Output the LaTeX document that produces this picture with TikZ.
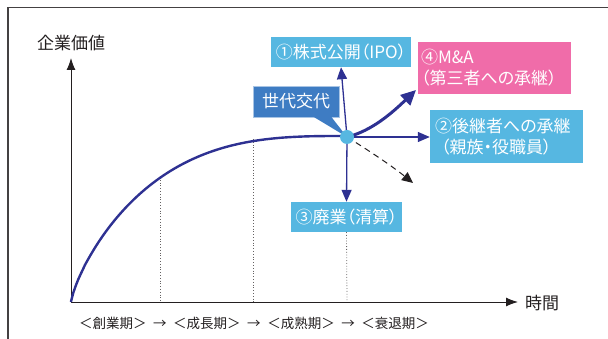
\documentclass[tikz,border=0pt]{standalone}
\usepackage{fontspec}
\newfontfamily\jp{Noto Sans CJK JP}
\newfontfamily\jpp{Noto Sans CJK JP}[RawFeature=+palt]
\usetikzlibrary{arrows.meta}
\definecolor{lblue}{HTML}{56B7E1}
\definecolor{dblue}{HTML}{3E7CC3}
\definecolor{pinkc}{HTML}{F06CA9}
\definecolor{navy}{HTML}{2E3192}
\definecolor{ink}{HTML}{231F20}
\begin{document}
\begin{tikzpicture}[x=1pt,y=-1pt,
  axlabel/.style={font=\jp\fontsize{17}{20}\selectfont, text=ink, inner sep=0pt},
  boxbase/.style={font=\jpp\fontsize{17}{21}\selectfont, text=white, inner sep=0pt},
  lbox/.style={boxbase, fill=lblue},
  pbox/.style={boxbase, fill=pinkc},
  dbox/.style={boxbase, fill=dblue, draw=dblue!45!white, line width=0.6pt},
  axisline/.style={ink, line width=1pt, -{Latex[length=12pt,width=9pt]}},
  navyarrow/.style={navy, line width=1.3pt, -{Triangle[length=12pt,width=10pt]}},
  guide/.style={ink!70, dotted, line width=0.8pt},
]
\useasboundingbox (0,0) rectangle (608,339);
% frame
\draw[ink!85, line width=1.6pt] (608,7.5) -- (8,7.5) -- (8,339);

% axes
\coordinate (O) at (71,302);
\coordinate (Ytip) at (71,58);
\coordinate (Xtip) at (518,302);
\draw[axisline] (O) -- (Ytip);
\draw[axisline] (O) -- (Xtip);
\node[axlabel] (ylab) at (71,43) {企業価値};
\node[axlabel] (xlab) at (542,303) {時間};

% guides
\coordinate (g1t) at (160,177);
\coordinate (g1b) at (160,302);
\coordinate (g2t) at (253,139);
\coordinate (g2b) at (253,302);
\coordinate (g3b) at (347,302);
\draw[guide] (g1t) -- (g1b);
\draw[guide] (g2t) -- (g2b);

% boxes
\node[lbox, minimum width=140pt, minimum height=30pt] (b1) at (341,52) {①株式公開（IPO）};
\node[pbox, minimum width=153pt, minimum height=52pt, align=left, text width=147pt] (b4) at (494.5,68) {④M\&A\\（第三者への承継）};
\node[lbox, minimum width=153pt, minimum height=53pt, align=left, text width=143pt] (b2) at (506.5,136.5) {②後継者への承継\\\hspace*{6pt}（親族・役職員）};
\node[lbox, minimum width=111pt, minimum height=30pt] (b3) at (346.5,217) {③廃業（清算）};
\draw[guide] (b3.south) -- (g3b);

% curve
\coordinate (P) at (347,137);
\draw[navy, line width=2.4pt] (O) -- plot[domain=0.0005:1, samples=120] ({71+276*\x},{302-166*(1-(1-\x)^3)^0.78});

% arrows from point
\draw[navyarrow] (P) -- (b1.south);
\draw[navyarrow] (P) -- (b3.north);
\draw[navyarrow] (P) -- (b2.west |- P);
\coordinate (ma) at (416,90);
\draw[navy, line width=3pt, -{Triangle[length=15pt,width=14pt]}] (P) .. controls (372,131) and (393,112) .. (ma);
\coordinate (dn) at (413,183);
\draw[ink, line width=1pt, dash pattern=on 6pt off 4.5pt, -{Triangle[length=11pt,width=10pt]}] (P) .. controls (368,150) and (392,166) .. (dn);

% callout
\node[dbox, minimum width=86pt, minimum height=31pt] (gen) at (296,101.5) {世代交代};
\fill[dblue] (313,116.5) -- (P) -- (331,116.5) -- cycle;
\node[circle, fill=lblue, minimum size=14pt, inner sep=0pt] (pt) at (P) {};

% periods
\node[font=\jp\fontsize{13.5}{16}\selectfont, text=ink, inner sep=0pt] (periods) at (254,323) {＜創業期＞\hspace{3.5pt} → \hspace{3.5pt}＜成長期＞\hspace{3.5pt} → \hspace{3.5pt}＜成熟期＞\hspace{3.5pt} → \hspace{3.5pt}＜衰退期＞};
\end{tikzpicture}
\end{document}
